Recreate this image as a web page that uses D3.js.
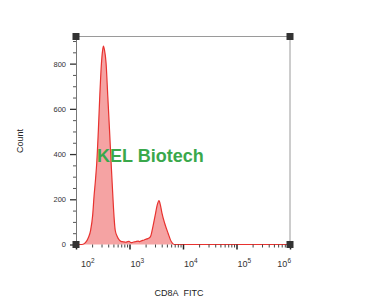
<!DOCTYPE html>
<html>
<head>
<meta charset="utf-8">
<script src="https://cdn.jsdelivr.net/npm/d3@7"></script>
<style>
  body { margin: 0; background: #fff; }
  svg { display: block; font-family: "Liberation Sans", Arial, sans-serif; }
</style>
</head>
<body>
<svg id="chart" width="387" height="305"></svg>
<script>
// histogram: fluorescence channel (CD8A FITC) vs count
const channel = [100, 130, 150, 170, 188, 205, 217, 232, 244, 262, 278, 299, 315, 326, 340,
  365, 393, 423, 454, 489, 515, 540, 590, 642, 692, 760, 859, 920, 978, 1050, 1114, 1190,
  1270, 1350, 1446, 1550, 1648, 1760, 1878, 2050, 2203, 2466, 2740, 3070, 3300, 3557, 3800,
  4053, 4543, 5260, 6070, 6820, 10000, 1000000];
const counts = [0, 0, 8, 30, 64, 130, 211, 290, 359, 507, 654, 802, 860, 878, 862,
  802, 654, 507, 359, 211, 120, 64, 35, 20, 14, 12, 10, 13, 14, 9, 8, 11,
  12, 14, 15, 13, 16, 18, 20, 24, 26, 35, 79, 138, 175, 194, 172,
  138, 94, 50, 12, 0, 0, 0];

const yMajor = [0, 200, 400, 600, 800];
const xDecades = [2, 3, 4, 5, 6];

const svg = d3.select('#chart');
const plot = { left: 76, right: 290, top: 36.5, bottom: 244.5 };

const x = d3.scaleLog().domain([1e2, 1e6]).range([plot.left, plot.right]);
const y = d3.scaleLinear().domain([0, 920]).range([plot.bottom, plot.top]);

const data = channel.map((c, i) => ({ c, n: counts[i] }));

// Histogram fill + outline
const area = d3.area()
  .x(d => x(d.c))
  .y0(y(0))
  .y1(d => y(d.n))
  .curve(d3.curveMonotoneX);

const line = d3.line()
  .x(d => x(d.c))
  .y(d => y(d.n))
  .curve(d3.curveMonotoneX);

// frame lines (top + right)
svg.append('line')
  .attr('x1', plot.left).attr('x2', plot.right).attr('y1', plot.top).attr('y2', plot.top)
  .attr('stroke', '#9a9a9a').attr('stroke-width', 1);
svg.append('line')
  .attr('x1', plot.right).attr('x2', plot.right).attr('y1', plot.top).attr('y2', plot.bottom)
  .attr('stroke', '#9a9a9a').attr('stroke-width', 1);

svg.append('path')
  .datum(data)
  .attr('fill', '#f5a3a3')
  .attr('d', area);

svg.append('path')
  .datum(data)
  .attr('fill', 'none')
  .attr('stroke', '#e8322f')
  .attr('stroke-width', 1.2)
  .attr('d', line);

// Y axis
const yMinor = d3.range(0, 901, 50).filter(v => v % 200 !== 0);
svg.append('g')
  .attr('transform', `translate(${plot.left},0)`)
  .call(d3.axisLeft(y).tickValues(yMinor).tickSize(3).tickFormat(''))
  .call(g => g.select('.domain').remove())
  .call(g => g.selectAll('line').attr('stroke', '#555'));

const yAxis = svg.append('g')
  .attr('transform', `translate(${plot.left},0)`)
  .call(d3.axisLeft(y).tickValues(yMajor).tickSize(6).tickPadding(4).tickSizeOuter(0))
  .call(g => g.select('.domain').attr('stroke', '#777'))
  .call(g => g.selectAll('line').attr('stroke', '#333').attr('stroke-width', 1.3));
yAxis.selectAll('text')
  .attr('font-size', 7.5)
  .attr('fill', '#333')
  .attr('font-family', '"Liberation Sans", Arial, sans-serif');

// X axis
const xMinor = [];
xDecades.slice(0, -1).forEach(p => {
  for (let k = 2; k <= 9; k++) xMinor.push(k * Math.pow(10, p));
});
svg.append('g')
  .attr('transform', `translate(0,${plot.bottom})`)
  .call(d3.axisBottom(x).tickValues(xMinor).tickSize(3).tickFormat(''))
  .call(g => g.select('.domain').remove())
  .call(g => g.selectAll('line').attr('stroke', '#444'));

svg.append('g')
  .attr('transform', `translate(0,${plot.bottom})`)
  .call(d3.axisBottom(x).tickValues(xDecades.map(p => Math.pow(10, p))).tickSize(5).tickFormat(''))
  .call(g => g.select('.domain').remove())
  .call(g => g.selectAll('line').attr('stroke', '#222').attr('stroke-width', 1.5));

// decade labels 10^n
const xl = svg.append('g').attr('font-size', 9).attr('fill', '#333');
xDecades.forEach((p, i) => {
  const px = x(Math.pow(10, p));
  const t = xl.append('text').attr('y', 267);
  if (i === 0) t.attr('x', px + 5).attr('text-anchor', 'start');
  else if (i === xDecades.length - 1) t.attr('x', px + 1).attr('text-anchor', 'end');
  else t.attr('x', px + 1).attr('text-anchor', 'start');
  t.append('tspan').text('10');
  t.append('tspan').attr('font-size', 6.5).attr('dy', -4).text(p);
});

// corner markers
[[plot.left, plot.top], [plot.right, plot.top], [plot.right, plot.bottom], [plot.left, plot.bottom]]
  .forEach(([cx, cy]) => {
    svg.append('rect')
      .attr('x', cx - 3.5).attr('y', cy - 3.5)
      .attr('width', 7).attr('height', 7)
      .attr('fill', '#333');
  });

// titles
svg.append('text')
  .attr('transform', 'translate(23,141) rotate(-90)')
  .attr('text-anchor', 'middle')
  .attr('font-size', 9)
  .attr('fill', '#222')
  .text('Count');

svg.append('text')
  .attr('x', 179).attr('y', 296)
  .attr('text-anchor', 'middle')
  .attr('font-size', 9)
  .attr('word-spacing', 3)
  .attr('fill', '#222')
  .text('CD8A FITC');

svg.append('text')
  .attr('x', 97).attr('y', 162)
  .attr('font-size', 18)
  .attr('font-weight', 'bold')
  .attr('fill', '#3aa84b')
  .text('KEL Biotech');
</script>
</body>
</html>
